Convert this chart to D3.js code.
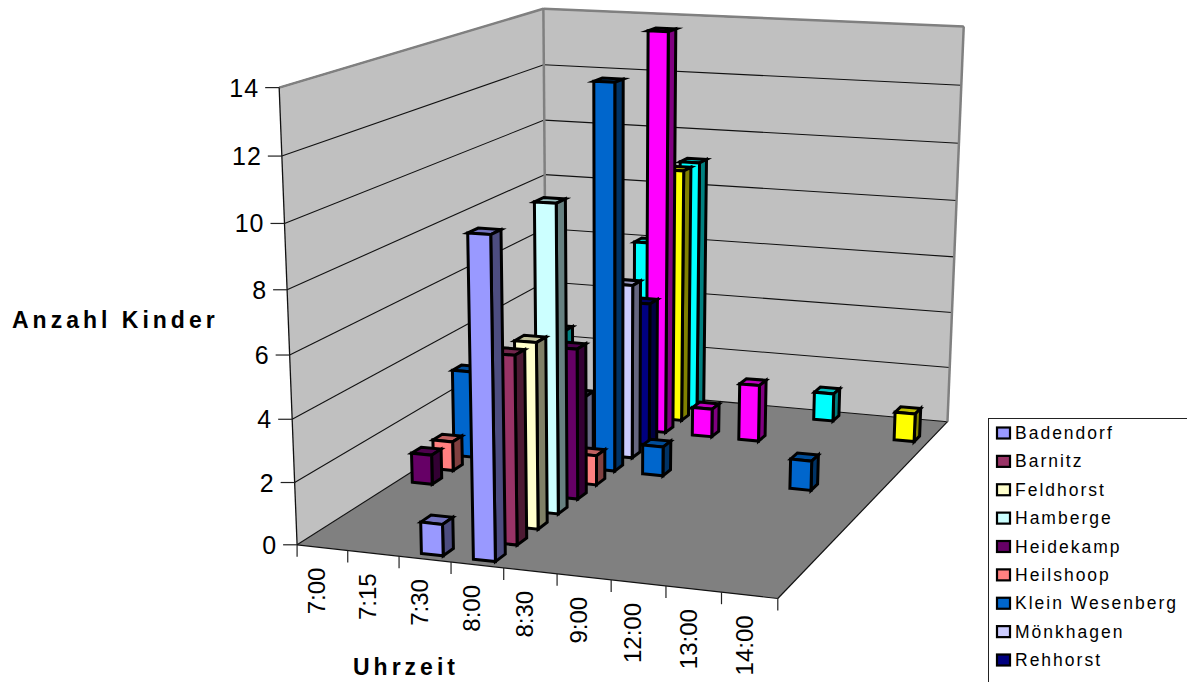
<!DOCTYPE html>
<html><head><meta charset="utf-8">
<script src="https://cdn.jsdelivr.net/npm/d3@7"></script>
<style>html,body{margin:0;padding:0;background:#fff;overflow:hidden}svg{display:block}text{font-family:"Liberation Sans",Arial,sans-serif;fill:#000}</style>
</head><body><svg id="c" width="1187" height="682"></svg>
<script>
const categories = ["7:00","7:15","7:30","8:00","8:30","9:00","12:00","13:00","14:00"];
const seriesKeys = ["Badendorf","Barnitz","Feldhorst","Hamberge","Heidekamp","Heilshoop","Klein Wesenberg","Mönkhagen","Rehhorst","s10","s11","s12"];
const legendNames = ["Badendorf","Barnitz","Feldhorst","Hamberge","Heidekamp","Heilshoop","Klein Wesenberg","Mönkhagen","Rehhorst"];
const colors = ["#9999FF","#993366","#FFFFCC","#CCFFFF","#660066","#FF8080","#0066CC","#CCCCFF","#000080","#FF00FF","#FFFF00","#00FFFF"];
const badendorf = [null,null,1,10,null,null,null,null,null];
const barnitz   = [null,null,null,6,null,null,null,null,null];
const feldhorst = [null,null,null,6,null,null,null,null,null];
const hamberge  = [null,null,null,10,null,null,null,null,null];
const heidekamp = [1,null,null,5,null,null,null,null,null];
const heilshoop = [1,null,null,1,null,null,null,null,null];
const klein     = [3,null,null,13,1,null,null,1,null];
const moenk     = [null,null,2,6,null,null,null,null,null];
const rehhorst  = [null,null,null,5,null,null,null,null,null];
const s10       = [null,null,null,14,1,2,null,null,null];
const s11       = [null,null,null,9,null,null,null,null,1];
const s12       = [2.5,null,6,9,null,null,1,null,null];
const seriesValues = [badendorf,barnitz,feldhorst,hamberge,heidekamp,heilshoop,klein,moenk,rehhorst,s10,s11,s12];
const yTicks = [0,2,4,6,8,10,12,14];

// frame anchors: unit-cube corner -> screen, used to fit the camera
const anchors = [
 [0,0,0,298,543],[1,0,0,778,600],[0,0,1,278,88],
 [0,1,0,545,388],[1,1,0,948,420],[0,1,1,545,8],[1,1,1,963,27]];
function fit(){
  const A=[],b=[];
  anchors.forEach(([x,y,z,u,v])=>{
    A.push([x,y,z,1,0,0,0,0,-u*x,-u*y,-u*z]);b.push(u);
    A.push([0,0,0,0,x,y,z,1,-v*x,-v*y,-v*z]);b.push(v);
  });
  const n=11,M=d3.range(n).map(i=>d3.range(n+1).map(j=>{
    let s=0;A.forEach((r,k)=>{s+=r[i]*(j<n?r[j]:b[k]);});return s;}));
  for(let i=0;i<n;i++){
    let p=i;for(let k=i+1;k<n;k++)if(Math.abs(M[k][i])>Math.abs(M[p][i]))p=k;
    [M[i],M[p]]=[M[p],M[i]];
    for(let k=0;k<n;k++)if(k!==i){const f=M[k][i]/M[i][i];for(let j=i;j<=n;j++)M[k][j]-=f*M[i][j];}
  }
  return M.map((r,i)=>r[n]/r[i]);
}
const P=fit();
const proj=(x,y,z)=>{const w=P[8]*x+P[9]*y+P[10]*z+1;
  return [(P[0]*x+P[1]*y+P[2]*z+P[3])/w,(P[4]*x+P[5]*y+P[6]*z+P[7])/w];};

const xScale=d3.scaleBand().domain(categories).range([0,1]).paddingInner(0.58).paddingOuter(0.29).align(0.53);
const zScale=d3.scaleBand().domain(seriesKeys).range([0,1]).paddingInner(0.55).paddingOuter(0.275);
const yScale=d3.scaleLinear().domain([0,14]).range([0,1]);
const cellX=d3.scaleLinear().domain([0,categories.length]).range([0,1]);

const svg=d3.select("#c");
const path=pts=>"M"+pts.map(p=>p[0].toFixed(1)+","+p[1].toFixed(1)).join("L")+"Z";
const line=(a,b,col,w)=>svg.append("line").attr("x1",a[0]).attr("y1",a[1]).attr("x2",b[0]).attr("y2",b[1]).attr("stroke",col).attr("stroke-width",w);

// walls and floor
svg.append("path").attr("d",path([proj(0,0,0),proj(0,0,1),proj(0,1,1),proj(0,1,0)])).attr("fill","#C0C0C0");
svg.append("path").attr("d",path([proj(0,1,0),proj(0,1,1),proj(1,1,1),proj(1,1,0)])).attr("fill","#C0C0C0");
svg.append("path").attr("d",path([proj(0,0,0),proj(1,0,0),proj(1,1,0),proj(0,1,0)])).attr("fill","#808080");
yTicks.forEach(t=>{const y=yScale(t);
  line(proj(0,0,y),proj(0,1,y),"#111",1.1);
  line(proj(0,1,y),proj(1,1,y),"#111",1.1);
});
[[proj(0,0,1),proj(0,1,1)],[proj(0,1,1),proj(1,1,1)],[proj(1,1,1),proj(1,1,0)],[proj(0,1,1),proj(0,1,0)]]
  .forEach(([a,b])=>line(a,b,"#808080",2.5));
line(proj(0,0,0),proj(0,0,1),"#111",1.3);
line(proj(0,0,0),proj(1,0,0),"#111",1.2);
line(proj(1,0,0),proj(1,1,0),"#111",1.2);

// axes
yTicks.forEach(t=>{const p=proj(0,0,yScale(t));
  line([p[0]-14,p[1]],p,"#222",1.2);
  svg.append("text").attr("x",p[0]-20).attr("y",p[1]+9).attr("text-anchor","end").attr("font-size",25).attr("letter-spacing",1).text(t);
});
d3.range(categories.length+1).forEach(i=>{const p=proj(cellX(i),0,0);line(p,[p[0],p[1]+12],"#222",1.2);});
categories.forEach((c,i)=>{const p=proj(cellX(i+0.5),0,0);
  svg.append("text").attr("transform",`translate(${p[0]+3},${p[1]+20}) rotate(-90)`).attr("text-anchor","end").attr("font-size",24).text(c);
});

// bars, back to front
const bars=[];
seriesKeys.forEach((s,si)=>categories.forEach((c,ci)=>{const v=seriesValues[si][ci];if(v!=null)bars.push({s,si,c,ci,v});}));
bars.sort((a,b)=>d3.descending(a.si,b.si)||d3.ascending(a.ci,b.ci));
const shade=(c,k)=>{const r=d3.rgb(c);return d3.rgb(r.r*k,r.g*k,r.b*k).formatHex();};
const g=svg.append("g").attr("stroke","#000").attr("stroke-width",3).attr("stroke-linejoin","miter").attr("stroke-miterlimit",10);
bars.forEach(d=>{
  const x0=xScale(d.c),x1=x0+xScale.bandwidth(),z0=zScale(d.s),z1=z0+zScale.bandwidth(),h=yScale(d.v),col=colors[d.si];
  g.append("path").attr("d",path([proj(x0,z0,h),proj(x1,z0,h),proj(x1,z1,h),proj(x0,z1,h)])).attr("fill",shade(col,.75));
  g.append("path").attr("d",path([proj(x1,z0,0),proj(x1,z1,0),proj(x1,z1,h),proj(x1,z0,h)])).attr("fill",shade(col,.5));
  g.append("path").attr("d",path([proj(x0,z0,0),proj(x1,z0,0),proj(x1,z0,h),proj(x0,z0,h)])).attr("fill",col);
});

// titles
svg.append("text").attr("x",12).attr("y",328).attr("font-size",23).attr("font-weight","bold").attr("letter-spacing",4).text("Anzahl Kinder");
svg.append("text").attr("x",353).attr("y",675).attr("font-size",23).attr("font-weight","bold").attr("letter-spacing",4).text("Uhrzeit");

// legend
svg.append("rect").attr("x",988.5).attr("y",418.5).attr("width",240).attr("height",300).attr("fill","#fff").attr("stroke","#222").attr("stroke-width",1);
const rowY=d3.scalePoint().domain(legendNames).range([433,660]);
legendNames.forEach((n,i)=>{const y=rowY(n);
  svg.append("rect").attr("x",997).attr("y",y-5.5).attr("width",13).attr("height",11).attr("fill",colors[i]).attr("stroke","#000").attr("stroke-width",2.2);
  svg.append("text").attr("x",1015).attr("y",y+6).attr("font-size",17.5).attr("letter-spacing",2).text(n);
});
</script></body></html>
